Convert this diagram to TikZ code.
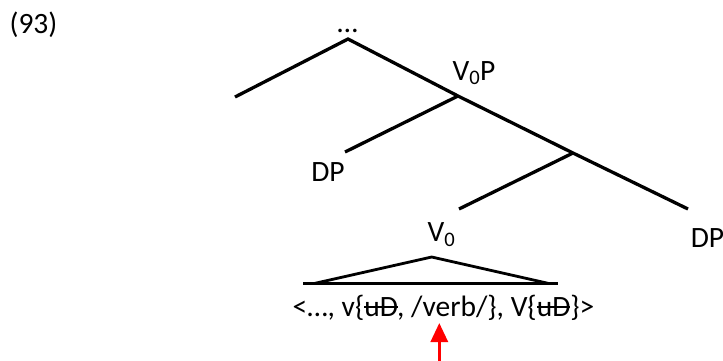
\documentclass[tikz,border=0pt]{standalone}
\usepackage{fontspec}
\setmainfont{Carlito}
\usetikzlibrary{arrows.meta}
\newlength\mystrkw
\newcommand\mystrike[1]{\settowidth{\mystrkw}{#1}\rlap{\rule[0.27em]{\mystrkw}{1.6pt}}#1}
\begin{document}
\begin{tikzpicture}[x=1pt,y=-1pt,
  lbl/.style={inner sep=0pt,anchor=base,font=\fontsize{29.5}{35}\selectfont},
  branch/.style={line width=3.3pt,black},
  tri/.style={line width=2.8pt,black,line join=miter}]
\useasboundingbox (0,0) rectangle (723,360);
% labels
\node[lbl] (ex) at (33.5,33) {(93)};
\node[lbl] (dots) at (347.5,32) {…};
\node[lbl] (vzp) at (474,80) {V\textsubscript{0}P};
\node[lbl] (dpl) at (328,181.7) {DP};
\node[lbl] (vz) at (441.5,241.7) {V\textsubscript{0}};
\node[lbl] (dpr) at (707.5,247) {DP};
\node[lbl] (str) at (443.5,316) {<…, v\{\mystrike{uD}, /verb/\}, V\{\mystrike{uD}\}>};
% tree points
\coordinate (top) at (348,39);
\coordinate (leftleaf) at (235,97);
\coordinate (vp) at (458,96);
\coordinate (dpend) at (345,152);
\coordinate (mid) at (573,153);
\coordinate (rend) at (688,209);
\coordinate (lend) at (459,209);
\draw[branch] (leftleaf) -- (top) -- (vp) -- (mid) -- (rend);
\draw[branch] (vp) -- (dpend);
\draw[branch] (mid) -- (lend);
% triangle
\coordinate (apex) at (431.7,257);
\coordinate (tl) at (315,283.3);
\coordinate (tr) at (548,283.3);
\coordinate (bl) at (303,283.3);
\coordinate (br) at (558,283.3);
\draw[tri] (tl) -- (apex) -- (tr);
\draw[tri] (bl) -- (br);
% red arrow
\coordinate (arrbot) at (439.3,362);
\coordinate (arrtip) at (439.3,323);
\draw[red,line width=3.2pt,-{Triangle[width=17pt,length=19pt]}] (arrbot) -- (arrtip);
\end{tikzpicture}
\end{document}
